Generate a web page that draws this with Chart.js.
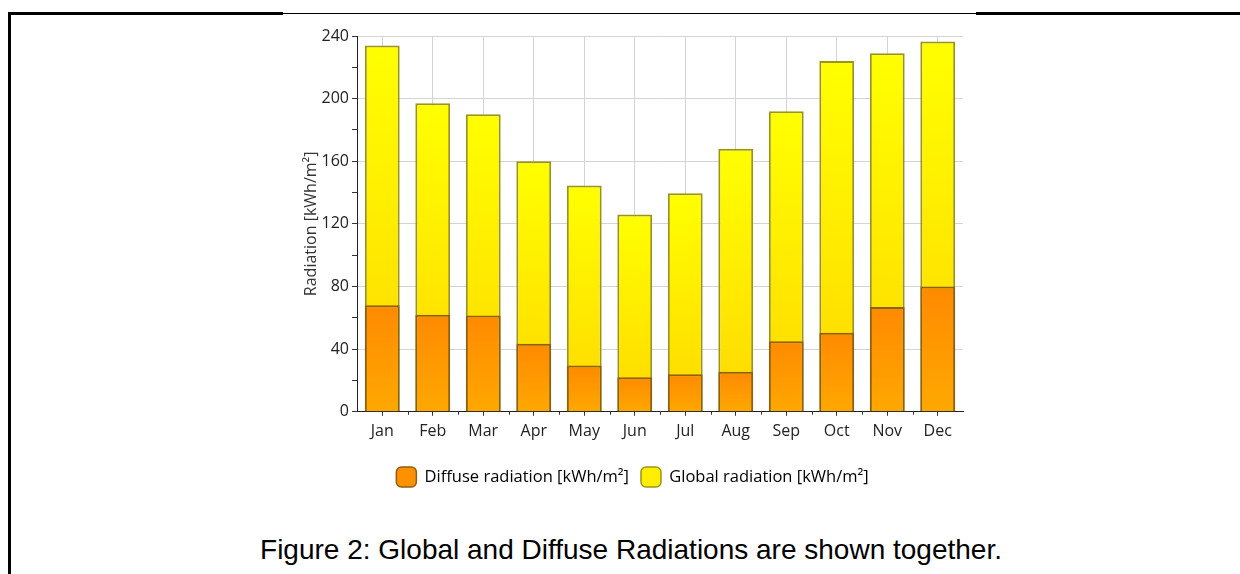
<!DOCTYPE html>
<html>
<head>
<meta charset="utf-8">
<script src="https://cdn.jsdelivr.net/npm/chart.js@4.4.1/dist/chart.umd.min.js"></script>
<style>
  html, body { margin: 0; padding: 0; background: #fff; }
  body { width: 1240px; height: 574px; position: relative; overflow: hidden; }
  .line { position: absolute; background: #000; }
  #wrap { position: absolute; left: 283px; top: 14px; width: 693px; height: 486px; }
  #caption {
    position: absolute; left: 0; width: 1262px; top: 534px; text-align: center;
    font-family: "Liberation Sans", Arial, sans-serif; font-size: 28px; color: #000;
  }
</style>
</head>
<body>
<div class="line" style="left:8px;top:12px;width:275px;height:3px"></div>
<div class="line" style="left:283px;top:13px;width:693px;height:1px"></div>
<div class="line" style="left:976px;top:12px;width:264px;height:3px"></div>
<div class="line" style="left:8px;top:12px;width:3px;height:562px"></div>
<div id="wrap"><canvas id="chart"></canvas></div>
<div id="caption">Figure 2: Global and Diffuse Radiations are shown together.</div>
<script>
// months on the x axis
const months = ["Jan", "Feb", "Mar", "Apr", "May", "Jun", "Jul", "Aug", "Sep", "Oct", "Nov", "Dec"];
// monthly radiation in kWh/m2
const diffuse = [68, 62, 61.5, 43.5, 29.5, 22, 24, 25.5, 45, 50.5, 67, 80];
const global = [234, 197, 190, 160, 144.5, 126, 139.5, 168, 192, 224, 229, 236.5];
const yTicks = [0, 40, 80, 120, 160, 200, 240];

const ctx = document.getElementById("chart").getContext("2d");
const font = "'Open Sans', 'Noto Sans', sans-serif";

// vertical gradient for each bar, from its top to the zero line
function barGradient(top, bottom) {
  return function(c) {
    const chart = c.chart;
    if (!chart.chartArea || c.raw == null) return bottom;
    const y = chart.scales.y;
    const g = chart.ctx.createLinearGradient(0, y.getPixelForValue(c.raw), 0, y.getPixelForValue(0));
    g.addColorStop(0, top);
    g.addColorStop(1, bottom);
    return g;
  };
}

// small ticks between the months
const boundaryTicks = {
  id: "boundaryTicks",
  afterDraw(chart) {
    const x = chart.scales.x, c = chart.ctx, b = chart.chartArea.bottom;
    c.save();
    c.strokeStyle = "#333";
    c.lineWidth = 1;
    for (let i = 0; i < months.length - 1; i++) {
      const px = Math.round((x.getPixelForValue(i) + x.getPixelForValue(i + 1)) / 2);
      c.beginPath();
      c.moveTo(px + 0.5, b);
      c.lineTo(px + 0.5, b + 3);
      c.stroke();
    }
    c.restore();
  }
};

new Chart(ctx, {
  type: "bar",
  data: {
    labels: months,
    datasets: [
      {
        label: "Diffuse radiation [kWh/m²]",
        data: diffuse,
        backgroundColor: barGradient("#ff8a00", "#ffa800"),
        borderColor: "#8e5e12",
        borderWidth: 2,
        grouped: false,
        categoryPercentage: 1,
        barPercentage: 0.69
      },
      {
        label: "Global radiation [kWh/m²]",
        data: global,
        backgroundColor: barGradient("#ffff00", "#ffd800"),
        borderColor: "#9c9418",
        borderWidth: 2,
        grouped: false,
        categoryPercentage: 1,
        barPercentage: 0.69
      }
    ]
  },
  options: {
    responsive: true,
    maintainAspectRatio: false,
    animation: false,
    layout: { padding: { left: 19, right: 13, top: 22, bottom: 3 } },
    plugins: {
      tooltip: { enabled: false },
      legend: {
        position: "bottom",
        labels: {
          font: { family: font, size: 16.5 },
          color: "#222",
          boxWidth: 20,
          boxHeight: 20,
          padding: 12,
          useBorderRadius: true,
          borderRadius: 5,
          generateLabels() {
            return [
              { text: "Diffuse radiation [kWh/m²]", fillStyle: "#ff9000", strokeStyle: "#8e5e12", lineWidth: 1.5, borderRadius: 5, datasetIndex: 0 },
              { text: "Global radiation [kWh/m²]", fillStyle: "#ffee00", strokeStyle: "#9c9418", lineWidth: 1.5, borderRadius: 5, datasetIndex: 1 }
            ];
          }
        }
      }
    },
    scales: {
      x: {
        afterFit(s) { s.height += 8; },
        grid: {
          offset: false,
          color: "#d4d4d4",
          tickColor: "#333",
          tickLength: 4
        },
        border: { color: "#222", width: 1 },
        ticks: { font: { family: font, size: 16 }, color: "#222", padding: 6 }
      },
      y: {
        min: 0,
        max: 240,
        afterFit(s) { s.width = 55; },
        grid: {
          color: c => (c.tick && yTicks.includes(c.tick.value)) ? "#d4d4d4" : "rgba(0,0,0,0)",
          tickColor: "#333",
          tickLength: 5
        },
        border: { color: "#222", width: 1 },
        ticks: {
          stepSize: 20,
          font: { family: font, size: 16 },
          color: "#222",
          padding: 3,
          callback: v => yTicks.includes(v) ? v : ""
        },
        title: {
          display: true,
          text: "Radiation [kWh/m²]",
          font: { family: font, size: 16 },
          color: "#333",
          padding: 0
        }
      }
    }
  },
  plugins: [boundaryTicks]
});
</script>
</body>
</html>
